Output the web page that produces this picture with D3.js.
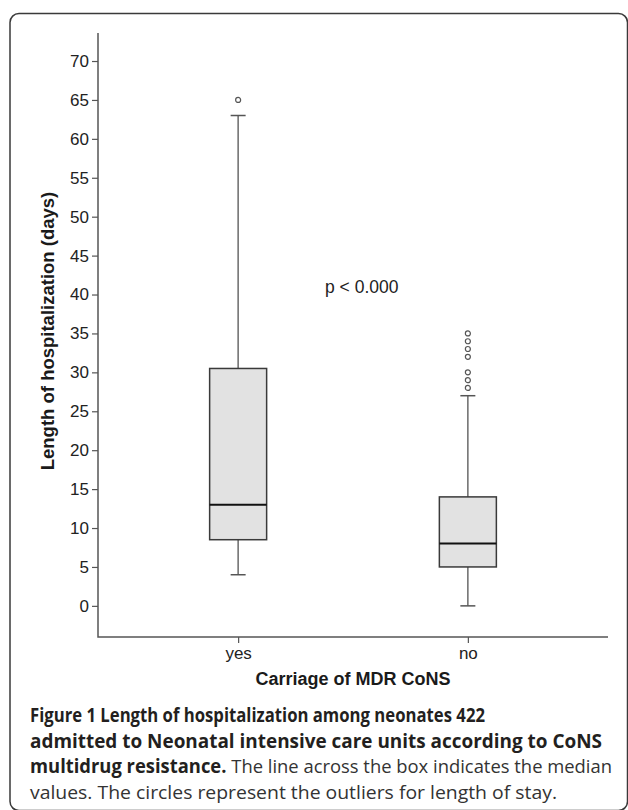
<!DOCTYPE html>
<html>
<head>
<meta charset="utf-8">
<script src="https://cdn.jsdelivr.net/npm/d3@7"></script>
<style>
  html, body { margin: 0; padding: 0; background: #fff; }
  svg { display: block; }
</style>
</head>
<body>
<svg id="chart" width="628" height="810"></svg>
<script>
const width = 628;
const height = 810;
const svg = d3.select("#chart");

// box summaries (days)
const groups = ["yes", "no"];
const whiskerLow = [4, 0];
const quart1 = [8.5, 5];
const medians = [13, 8];
const quart3 = [30.5, 14];
const whiskerHigh = [63, 27];
const outliers = [[65], [28, 29, 30, 32, 33, 34, 35]];
const yTicks = d3.range(0, 71, 5);

const boxes = groups.map((g, i) => ({
    group: g,
    lo: whiskerLow[i], q1: quart1[i], med: medians[i], q3: quart3[i], hi: whiskerHigh[i],
    out: outliers[i]
}));

// outer rounded frame (runs off the right and bottom edges a little)
svg.append("rect")
    .attr("x", 10).attr("y", 13.5)
    .attr("width", 617.5).attr("height", 797)
    .attr("rx", 9)
    .attr("fill", "none")
    .attr("stroke", "#3a3a3a")
    .attr("stroke-width", 1.5);

const plotLeft = 98, plotRight = 608, plotTop = 33, plotBottom = 637;

const y = d3.scaleLinear()
    .domain([-4, 73.6])
    .range([plotBottom, plotTop]);

const x = d3.scalePoint()
    .domain(groups)
    .range([plotLeft, plotRight])
    .padding(0.61);

const boxW = 57;
const capW = 15;
const fontAxis = "Liberation Sans, Arial, sans-serif";

// y axis
const yAxis = svg.append("g")
    .attr("transform", `translate(${plotLeft},0)`)
    .call(d3.axisLeft(y).tickValues(yTicks).tickSize(6).tickPadding(3).tickSizeOuter(0));
yAxis.select(".domain").remove();
yAxis.selectAll(".tick line").attr("stroke", "#555").attr("stroke-width", 1.2);
yAxis.selectAll(".tick text")
    .attr("font-family", fontAxis)
    .attr("font-size", 17)
    .attr("fill", "#222");

// x axis
const xAxis = svg.append("g")
    .attr("transform", `translate(0,${plotBottom})`)
    .call(d3.axisBottom(x).tickSize(6).tickPadding(4).tickSizeOuter(0));
xAxis.select(".domain").remove();
xAxis.selectAll(".tick line").attr("stroke", "#555").attr("stroke-width", 1.2);
xAxis.selectAll(".tick text")
    .attr("font-family", fontAxis)
    .attr("font-size", 17)
    .attr("fill", "#222");

// axis lines
svg.append("path")
    .attr("d", `M${plotLeft},${plotTop}V${plotBottom}H${plotRight}`)
    .attr("fill", "none")
    .attr("stroke", "#555")
    .attr("stroke-width", 1.5);

// boxes
const bx = svg.append("g").selectAll("g")
    .data(boxes)
    .join("g")
    .attr("transform", d => `translate(${x(d.group)},0)`);

// whiskers
bx.append("line")
    .attr("y1", d => y(d.q3)).attr("y2", d => y(d.hi))
    .attr("stroke", "#6a6a6a").attr("stroke-width", 1.5);
bx.append("line")
    .attr("y1", d => y(d.q1)).attr("y2", d => y(d.lo))
    .attr("stroke", "#6a6a6a").attr("stroke-width", 1.5);
bx.append("line")
    .attr("x1", -capW / 2).attr("x2", capW / 2)
    .attr("y1", d => y(d.hi)).attr("y2", d => y(d.hi))
    .attr("stroke", "#555").attr("stroke-width", 1.5);
bx.append("line")
    .attr("x1", -capW / 2).attr("x2", capW / 2)
    .attr("y1", d => y(d.lo)).attr("y2", d => y(d.lo))
    .attr("stroke", "#555").attr("stroke-width", 1.5);

bx.append("rect")
    .attr("x", -boxW / 2)
    .attr("width", boxW)
    .attr("y", d => y(d.q3))
    .attr("height", d => y(d.q1) - y(d.q3))
    .attr("fill", "#e2e2e2")
    .attr("stroke", "#3a3a3a")
    .attr("stroke-width", 1.5);

bx.append("line")
    .attr("x1", -boxW / 2).attr("x2", boxW / 2)
    .attr("y1", d => y(d.med)).attr("y2", d => y(d.med))
    .attr("stroke", "#111").attr("stroke-width", 2);

bx.selectAll("circle")
    .data(d => d.out)
    .join("circle")
    .attr("cy", d => y(d))
    .attr("r", 2.5)
    .attr("fill", "#fff")
    .attr("stroke", "#555")
    .attr("stroke-width", 1.2);

// p value note
svg.append("text")
    .attr("x", 325).attr("y", 293)
    .attr("font-family", fontAxis)
    .attr("font-size", 17.5)
    .attr("fill", "#222")
    .text("p < 0.000");

// axis titles
svg.append("text")
    .attr("transform", "translate(54,331) rotate(-90)")
    .attr("text-anchor", "middle")
    .attr("font-family", fontAxis)
    .attr("font-size", 18.5)
    .attr("font-weight", "bold")
    .attr("fill", "#1a1a1a")
    .text("Length of hospitalization (days)");

svg.append("text")
    .attr("x", (plotLeft + plotRight) / 2).attr("y", 685)
    .attr("text-anchor", "middle")
    .attr("font-family", fontAxis)
    .attr("font-size", 18)
    .attr("font-weight", "bold")
    .attr("fill", "#1a1a1a")
    .text("Carriage of MDR CoNS");

// caption
const capLines = [
    [{ t: "Figure 1 Length of hospitalization among neonates 422", b: true }],
    [{ t: "admitted to Neonatal intensive care units according to CoNS", b: true }],
    [{ t: "multidrug resistance.", b: true }, { t: " The line across the box indicates the median", b: false }],
    [{ t: "values. The circles represent the outliers for length of stay.", b: false }]
];
const capWidths = [455, 572, 582, 527];

capLines.forEach((parts, i) => {
    const t = svg.append("text")
        .attr("x", 30).attr("y", 722 + i * 25.5)
        .attr("font-family", "Open Sans, Noto Sans, sans-serif")
        .attr("font-size", 19)
        .attr("textLength", capWidths[i])
        .attr("lengthAdjust", "spacingAndGlyphs")
        .attr("xml:space", "preserve");
    parts.forEach(p => {
        t.append("tspan")
            .attr("font-weight", p.b ? "bold" : "normal")
            .attr("fill", p.b ? "#231f20" : "#333")
            .text(p.t);
    });
});
</script>
</body>
</html>
